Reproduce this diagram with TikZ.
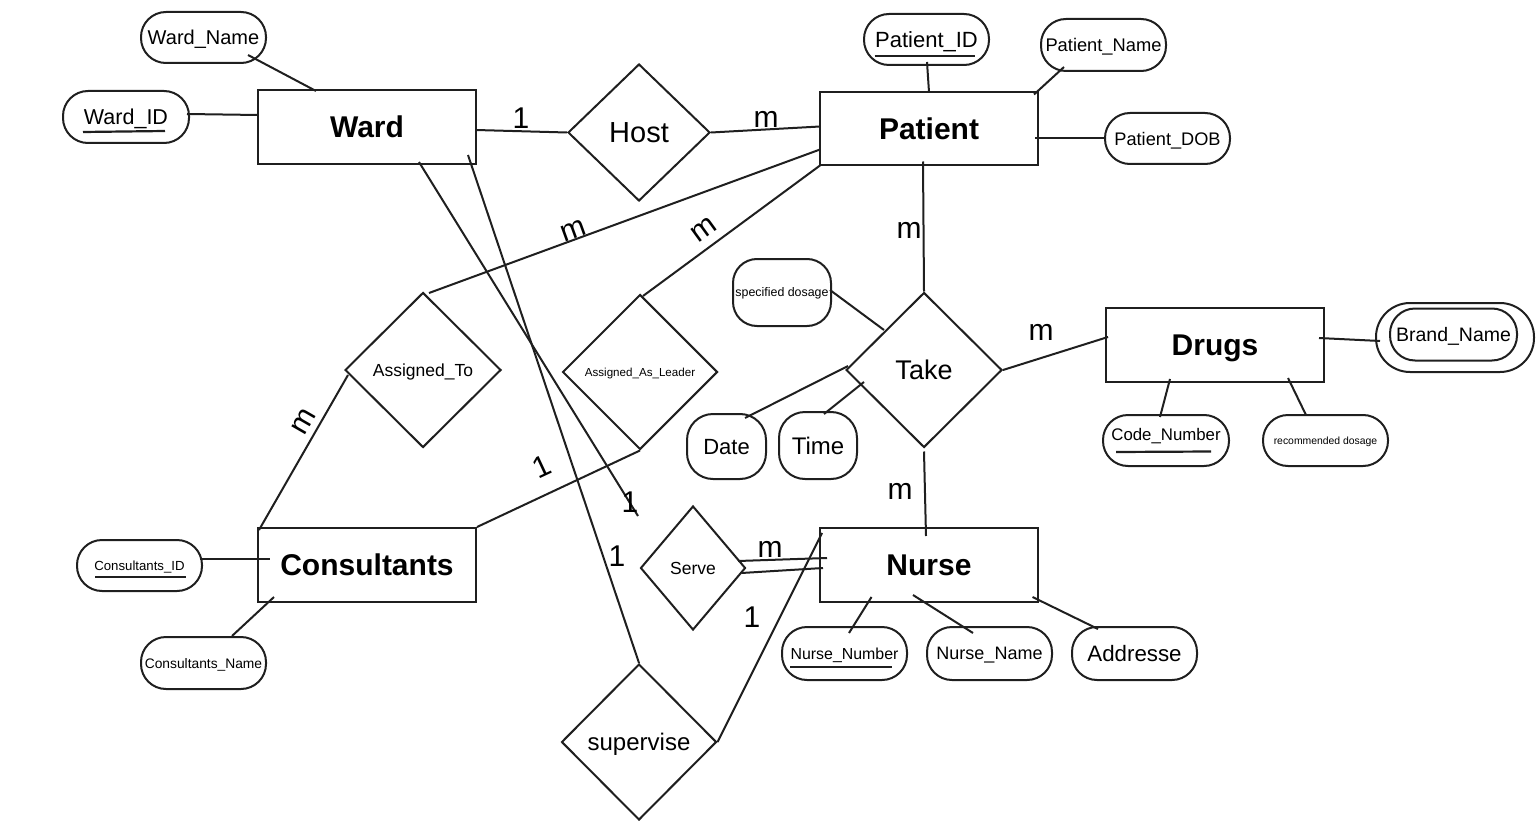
\documentclass[tikz,border=0pt]{standalone}
\usepackage{fontspec}
\setmainfont{Liberation Sans}
\usetikzlibrary{shapes.geometric}
\newcommand{\fs}[1]{\fontsize{#1}{#1}\selectfont}
\tikzset{
 ent/.style={draw=black!88, line width=2pt, minimum width=218pt, minimum height=74pt, inner sep=0pt, text depth=0pt, font=\fs{30}\bfseries},
 rel/.style={draw=black!88, diamond, line width=2pt, inner sep=0pt, text depth=0pt},
 att/.style={draw=black!88, line width=2pt, rounded corners=25pt, minimum width=125pt, minimum height=51pt, inner sep=0pt, text depth=0pt},
 attr/.style={draw=black!88, line width=2pt, rounded corners=26pt, inner sep=0pt, text depth=0pt},
 con/.style={draw=black!88, line width=2pt},
 card/.style={font=\fs{30}, inner sep=0pt},
 ul/.style={draw=black!88, line width=2.2pt},
}
\begin{document}
\begin{tikzpicture}[x=1pt,y=-1pt]
\useasboundingbox (0,0) rectangle (1536,821);
% entities
\node[ent] (ward) at (367,127) {Ward};
\node[ent, minimum height=73pt] (patient) at (929,128.5) {Patient};
\node[ent] (drugs) at (1215,345) {Drugs};
\node[ent] (cons) at (367,565) {Consultants};
\node[ent] (nurse) at (929,565) {Nurse};
% relationships
\node[rel, minimum width=142pt, minimum height=137pt, font=\fs{29}] (host) at (639,132.5) {Host};
\node[rel, minimum width=156pt, minimum height=155pt, font=\fs{27}] (take) at (924,370) {Take};
\node[rel, minimum width=156pt, minimum height=155pt, font=\fs{17.5}] (assto) at (423,370) {Assigned\_To};
\node[rel, minimum width=155pt, minimum height=155pt, font=\fs{11.6}] (assl) at (640,372) {Assigned\_As\_Leader};
\node[rel, minimum width=105pt, minimum height=124pt, font=\fs{17.5}] (serve) at (693,568) {Serve};
\node[rel, minimum width=155pt, minimum height=156pt, font=\fs{24}] (sup) at (639,742) {supervise};
% attributes
\node[att, font=\fs{20}] (wname) at (203.5,37.5) {Ward\_Name};
\node[att, minimum width=126pt, minimum height=52pt, font=\fs{21.5}] (wid) at (126,117) {Ward\_ID};
\node[att, font=\fs{22}] (pid) at (926.5,39.5) {Patient\_ID};
\node[att, minimum height=52pt, font=\fs{18.3}] (pname) at (1103.5,45) {Patient\_Name};
\node[att, font=\fs{18.2}] (pdob) at (1167.5,138.5) {Patient\_DOB};
\node[attr, rounded corners=24pt, minimum width=98pt, minimum height=67pt, font=\fs{12.4}] (sdose) at (782,292.5) {specified dosage};
\node[attr, minimum width=79pt, minimum height=65pt, font=\fs{22}] (date) at (726.5,446.5) {Date};
\node[attr, minimum width=78pt, minimum height=67pt, font=\fs{24}] (time) at (818,445.5) {Time};
\node[att, minimum width=126pt] (code) at (1166,440.5) {};
\node[font=\fs{16.8}, inner sep=0pt, text depth=0pt] (codet) at ([yshift=6pt]code.center) {Code\_Number};
\node[att, font=\fs{10.4}] (rdose) at (1325.5,440.5) {recommended dosage};
\node[att, rounded corners=34pt, minimum width=158pt, minimum height=69pt] (brandout) at (1455,337.5) {};
\node[att, minimum width=127pt, minimum height=52pt, font=\fs{19.5}] (brand) at (1453.5,334.5) {Brand\_Name};
\node[att, font=\fs{13.2}] (cid) at (139.5,565.5) {Consultants\_ID};
\node[att, minimum height=52pt, font=\fs{13.8}] (cname) at (203.5,663) {Consultants\_Name};
\node[att, minimum height=53pt, font=\fs{15.9}] (nnum) at (844.5,653.5) {Nurse\_Number};
\node[att, minimum height=53pt, font=\fs{18}] (nname) at (989.5,653.5) {Nurse\_Name};
\node[att, minimum height=53pt, font=\fs{22.3}] (addr) at (1134.5,653.5) {Addresse};
% key underlines
\draw[ul] ([shift={(-43,15)}]wid.center) -- ([shift={(39,14)}]wid.center);
\draw[ul] ([shift={(-52,16.5)}]pid.center) -- ([shift={(48,16.5)}]pid.center);
\draw[ul] ([shift={(-50,11.5)}]code.center) -- ([shift={(45,11)}]code.center);
\draw[ul] ([shift={(-44.5,11.5)}]cid.center) -- ([shift={(46.5,11.5)}]cid.center);
\draw[ul] ([shift={(-54.5,13.5)}]nnum.center) -- ([shift={(47.5,13.5)}]nnum.center);
% connectors
\draw[con] ([shift={(44.5,17.5)}]wname.center) -- ([shift={(-51,-36)}]ward.center);
\draw[con] ([shift={(61,-3)}]wid.center) -- ([shift={(-109,-12)}]ward.center);
\draw[con] ([shift={(109,3)}]ward.center) -- (host.west);
\draw[con] (host.east) -- ([shift={(-109,-2)}]patient.center);
\draw[con] ([shift={(0.5,22.5)}]pid.center) -- ([shift={(0,-36.5)}]patient.center);
\draw[con] ([shift={(-39.5,22)}]pname.center) -- ([shift={(105,-34)}]patient.center);
\draw[con] ([shift={(106,10)}]patient.center) -- (pdob.west);
\draw[con] ([shift={(-6,33)}]patient.center) -- (take.north);
\draw[con] ([shift={(-109,21)}]patient.center) -- ([shift={(6,-77)}]assto.center);
\draw[con] ([shift={(-109,37)}]patient.center) -- ([shift={(3,-76)}]assl.center);
\draw[con] ([shift={(52,35)}]ward.center) -- ([shift={(-55,-52)}]serve.center);
\draw[con] ([shift={(101,28)}]ward.center) -- (sup.north);
\draw[con] ([shift={(-75,5)}]assto.center) -- ([shift={(-108,-35)}]cons.center);
\draw[con] (assl.south) -- (cons.north east);
\draw[con] ([shift={(-40,-40)}]take.center) -- ([shift={(48,-2.5)}]sdose.center);
\draw[con] ([shift={(-76,-4)}]take.center) -- ([shift={(18.5,-28.5)}]date.center);
\draw[con] ([shift={(-60,12)}]take.center) -- ([shift={(6,-31.5)}]time.center);
\draw[con] (take.east) -- ([shift={(-107,-8)}]drugs.center);
\draw[con] ([yshift=-3pt]take.south) -- ([shift={(-3,-29)}]nurse.center);
\draw[con] ([shift={(104,-7)}]drugs.center) -- ([shift={(-75,3.5)}]brandout.center);
\draw[con] ([shift={(-45,34)}]drugs.center) -- ([shift={(-6,-23.5)}]code.center);
\draw[con] ([shift={(73,33)}]drugs.center) -- ([shift={(-19.5,-25.5)}]rdose.center);
\draw[con] ([shift={(45,-7)}]serve.center) -- ([shift={(-102,-7)}]nurse.center);
\draw[con] ([shift={(48.5,5)}]serve.center) -- ([shift={(-106,3)}]nurse.center);
\draw[con] (sup.east) -- ([shift={(-107,-32)}]nurse.center);
\draw[con] ([shift={(60.5,-6.5)}]cid.center) -- ([shift={(-97,-6)}]cons.center);
\draw[con] ([shift={(-93,32)}]cons.center) -- ([shift={(28.5,-27)}]cname.center);
\draw[con] ([shift={(-57.5,32)}]nurse.center) -- ([shift={(4.5,-20.5)}]nnum.center);
\draw[con] ([shift={(-16,30)}]nurse.center) -- ([shift={(-16.5,-20.5)}]nname.center);
\draw[con] ([shift={(103.5,32)}]nurse.center) -- ([shift={(-36.5,-24.5)}]addr.center);
% cardinalities
\node[card] (c1) at (521,118) {1};
\node[card] (c2) at (766,119) {m};
\node[card] (c3) at (909,230) {m};
\node[card, rotate=20] (c4) at (573,231) {m};
\node[card, rotate=36] (c5) at (704,230) {m};
\node[card] (c6) at (630,502) {1};
\node[card] (c7) at (617,556) {1};
\node[card, rotate=60] (c8) at (304,422) {m};
\node[card, rotate=25] (c9) at (542,467) {1};
\node[card] (c10) at (1041,332) {m};
\node[card] (c11) at (900,491) {m};
\node[card] (c12) at (770,549) {m};
\node[card] (c13) at (752,617) {1};
\end{tikzpicture}
\end{document}
